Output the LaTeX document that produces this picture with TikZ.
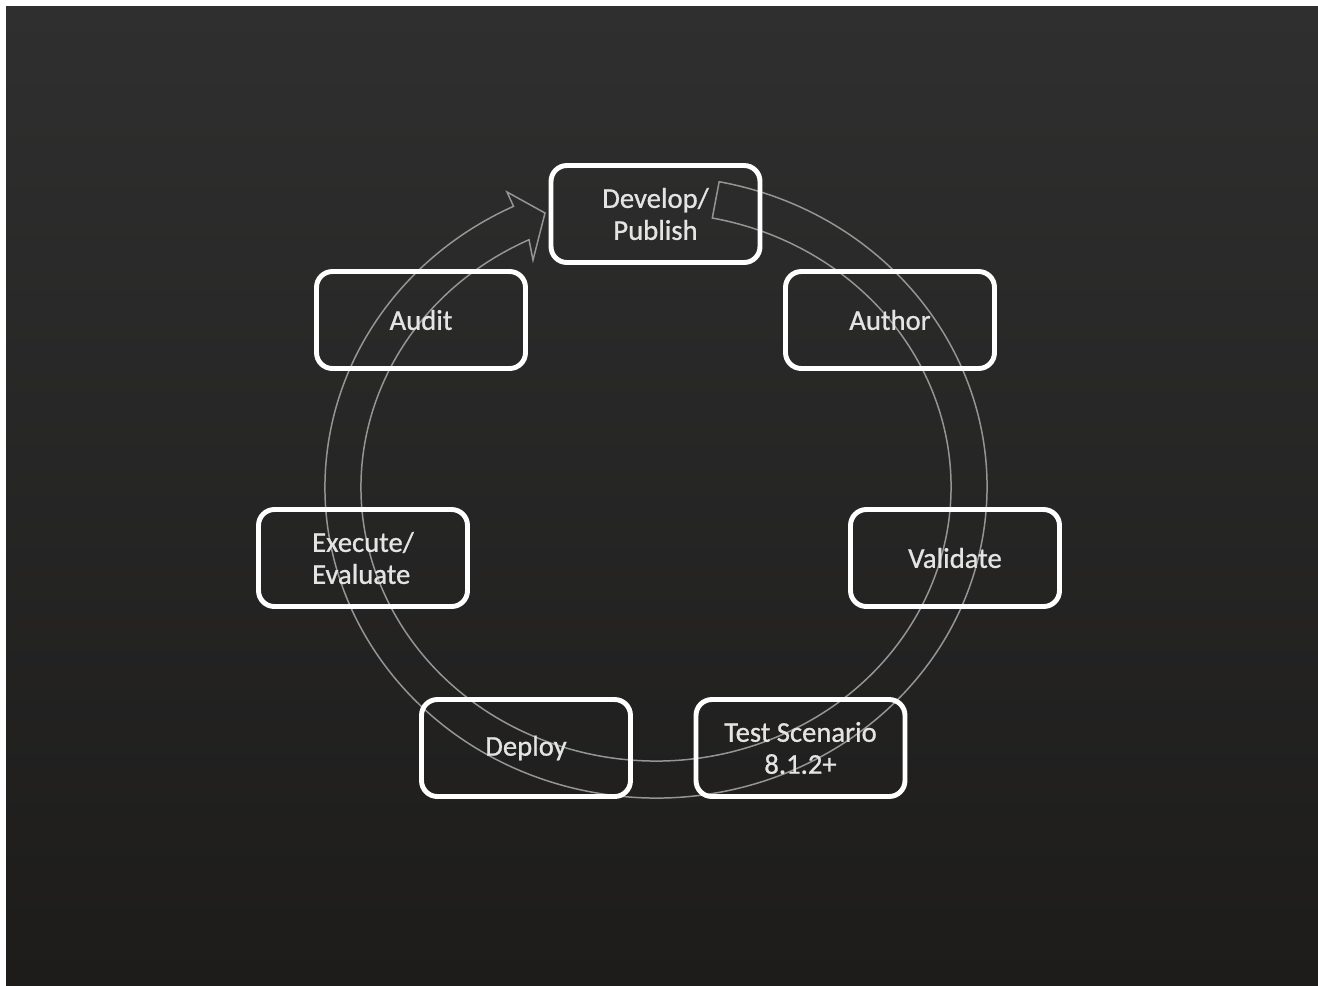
\documentclass[tikz,border=0pt]{standalone}
\usepackage{fontspec}
\setmainfont{Carlito}[FakeBold=0.9]
\usetikzlibrary{positioning, calc}
\definecolor{boardtop}{HTML}{2F2F2F}
\definecolor{boardbot}{HTML}{1D1C1B}
\definecolor{chalk}{HTML}{E4E4E4}
\definecolor{ringgray}{HTML}{959595}

\begin{document}
\begin{tikzpicture}
[x=0.02cm, y=0.02cm,
stage/.style = 
{draw=white, line width=2.8pt, rounded corners=9pt, minimum width=4.18cm,
minimum height=1.94cm, inner sep=0pt, align=center, text=chalk,
font=\fontsize{16.3}{18.2}\selectfont},
ring/.style = {draw=ringgray, line width=0.85pt, line join=miter}]

% board
\fill[white] (0,0) rectangle (1318,-985);
\shade[top color=boardtop, bottom color=boardbot] (6,-6) rectangle (1318,-985);

% cycle arrow
\coordinate (ctr) at (656,-487);
\coordinate (barbA) at (507,-192);
\coordinate (tip) at (545,-213);
\coordinate (barbB) at (533,-260);
\draw[ring] ($(ctr)+(79:331 and 311)$)
  arc[start angle=79, end angle=-244.5, x radius=331, y radius=311]
  -- (barbA) -- (tip) -- (barbB)
  -- ($(ctr)+(-244.5:295 and 274)$)
  arc[start angle=-244.5, end angle=79, x radius=295, y radius=274]
  -- cycle;

% stages
\node[stage] (dev) at (655.5,-214) {Develop/\\Publish};
\node[stage] (aud) at (421,-320) {Audit};
\node[stage] (auth) at (890,-320) {Author};
\node[stage, align=left] (exe) at (363,-558) {Execute/\\Evaluate};
\node[stage] (val) at (955,-558) {Validate};
\node[stage] (dep) at (526,-748) {Deploy};
\node[stage] (test) at (800.5,-748) {Test Scenario\\8.1.2+};

\end{tikzpicture}
\end{document}
